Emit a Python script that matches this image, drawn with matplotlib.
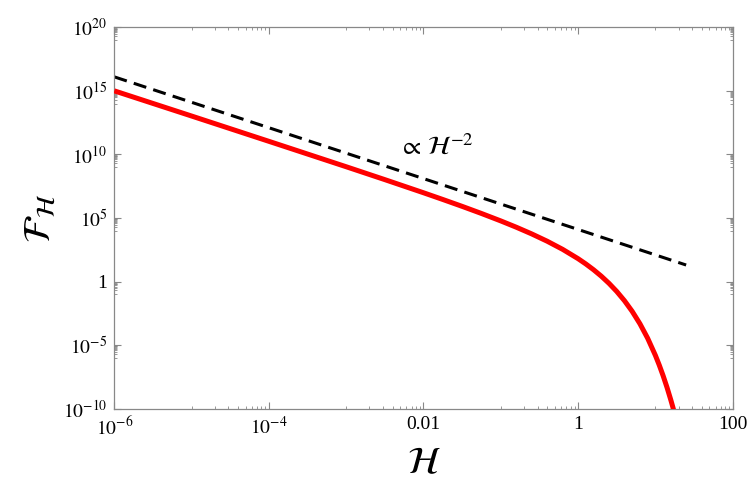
import numpy as np
import matplotlib
matplotlib.use("Agg")
import matplotlib.pyplot as plt
from matplotlib.ticker import FixedLocator, NullFormatter

plt.rcParams['font.family'] = ['Liberation Serif', 'DejaVu Serif']
plt.rcParams['mathtext.fontset'] = 'stix'

# Red curve F_H (log10 values)
red_log_h = [-6.0, -5.0, -4.0, -3.0, -2.5, -2.0, -1.75, -1.5, -1.25, -1.0, -0.8, -0.6,
             -0.4, -0.2, 0.0, 0.1, 0.2, 0.3, 0.4, 0.5, 0.6, 0.7, 0.8, 0.9, 1.0,
             1.05, 1.1, 1.15, 1.2, 1.226, 1.235]
red_log_f = [15.0, 13.02, 11.03, 9.031, 8.017, 6.985, 6.456, 5.915, 5.355, 4.77, 4.276, 3.748,
             3.174, 2.534, 1.80, 1.385, 0.930, 0.425, -0.140, -0.778, -1.506, -2.344, -3.318,
             -4.458, -5.804, -6.568, -7.403, -8.317, -9.318, -9.876, -10.08]

# Dashed reference line  ∝ H^-2
dash_h = [1e-6, 25.0]
dash_f = [1.26e16, 20.0]

x_major = [1e-6, 1e-4, 1e-2, 1, 100]
x_labels = [r'$10^{-6}$', r'$10^{-4}$', '0.01', '1', '100']
y_major = [1e-10, 1e-5, 1, 1e5, 1e10, 1e15, 1e20]
y_labels = [r'$10^{-10}$', r'$10^{-5}$', '1', r'$10^{5}$', r'$10^{10}$', r'$10^{15}$', r'$10^{20}$']

fig = plt.figure(figsize=(7.5, 4.96), dpi=100)
ax = fig.add_axes([0.1524, 0.1760, 0.8245, 0.7690])

ax.plot(10.0 ** np.array(red_log_h), 10.0 ** np.array(red_log_f), color='#ff0000', lw=3.6,
        solid_capstyle='butt', solid_joinstyle='round', zorder=3)
ax.plot(dash_h, dash_f, color='black', lw=2.2, dashes=(4.3, 2.4), zorder=2)

ax.set_xscale('log')
ax.set_yscale('log')
ax.set_xlim(1e-6, 100)
ax.set_ylim(1e-10, 1e20)

ax.xaxis.set_major_locator(FixedLocator(x_major))
ax.set_xticklabels(x_labels)
ax.yaxis.set_major_locator(FixedLocator(y_major))
ax.set_yticklabels(y_labels)

xminor = [k * 10.0 ** e for e in (-5, -3, -1, 1) for k in range(1, 10)]
yminor = [k * 10.0 ** e for e in (-6, -1, 4, 9, 14, 19) for k in range(1, 10)]
ax.xaxis.set_minor_locator(FixedLocator(xminor))
ax.yaxis.set_minor_locator(FixedLocator(yminor))
ax.xaxis.set_minor_formatter(NullFormatter())
ax.yaxis.set_minor_formatter(NullFormatter())

gray = '#888888'
for s in ax.spines.values():
    s.set_color(gray)
    s.set_linewidth(0.9)
ax.tick_params(which='both', direction='in', top=True, right=True, color=gray,
               labelcolor='black', labelsize=14)
ax.tick_params(which='major', length=5, width=0.8, pad=5)
ax.tick_params(which='minor', length=2.5, width=0.6)

ax.text(10 ** -1.83, 10 ** 10.6, r'$\propto\, \mathcal{H}^{-2}$', fontsize=19,
        ha='center', va='center')

ax.set_xlabel(r'$\mathcal{H}$', fontsize=27, labelpad=6)
ax.set_ylabel(r'$\mathcal{F}_{\mathcal{H}}$', fontsize=27, labelpad=4)

fig.savefig('out.png', dpi=100)
